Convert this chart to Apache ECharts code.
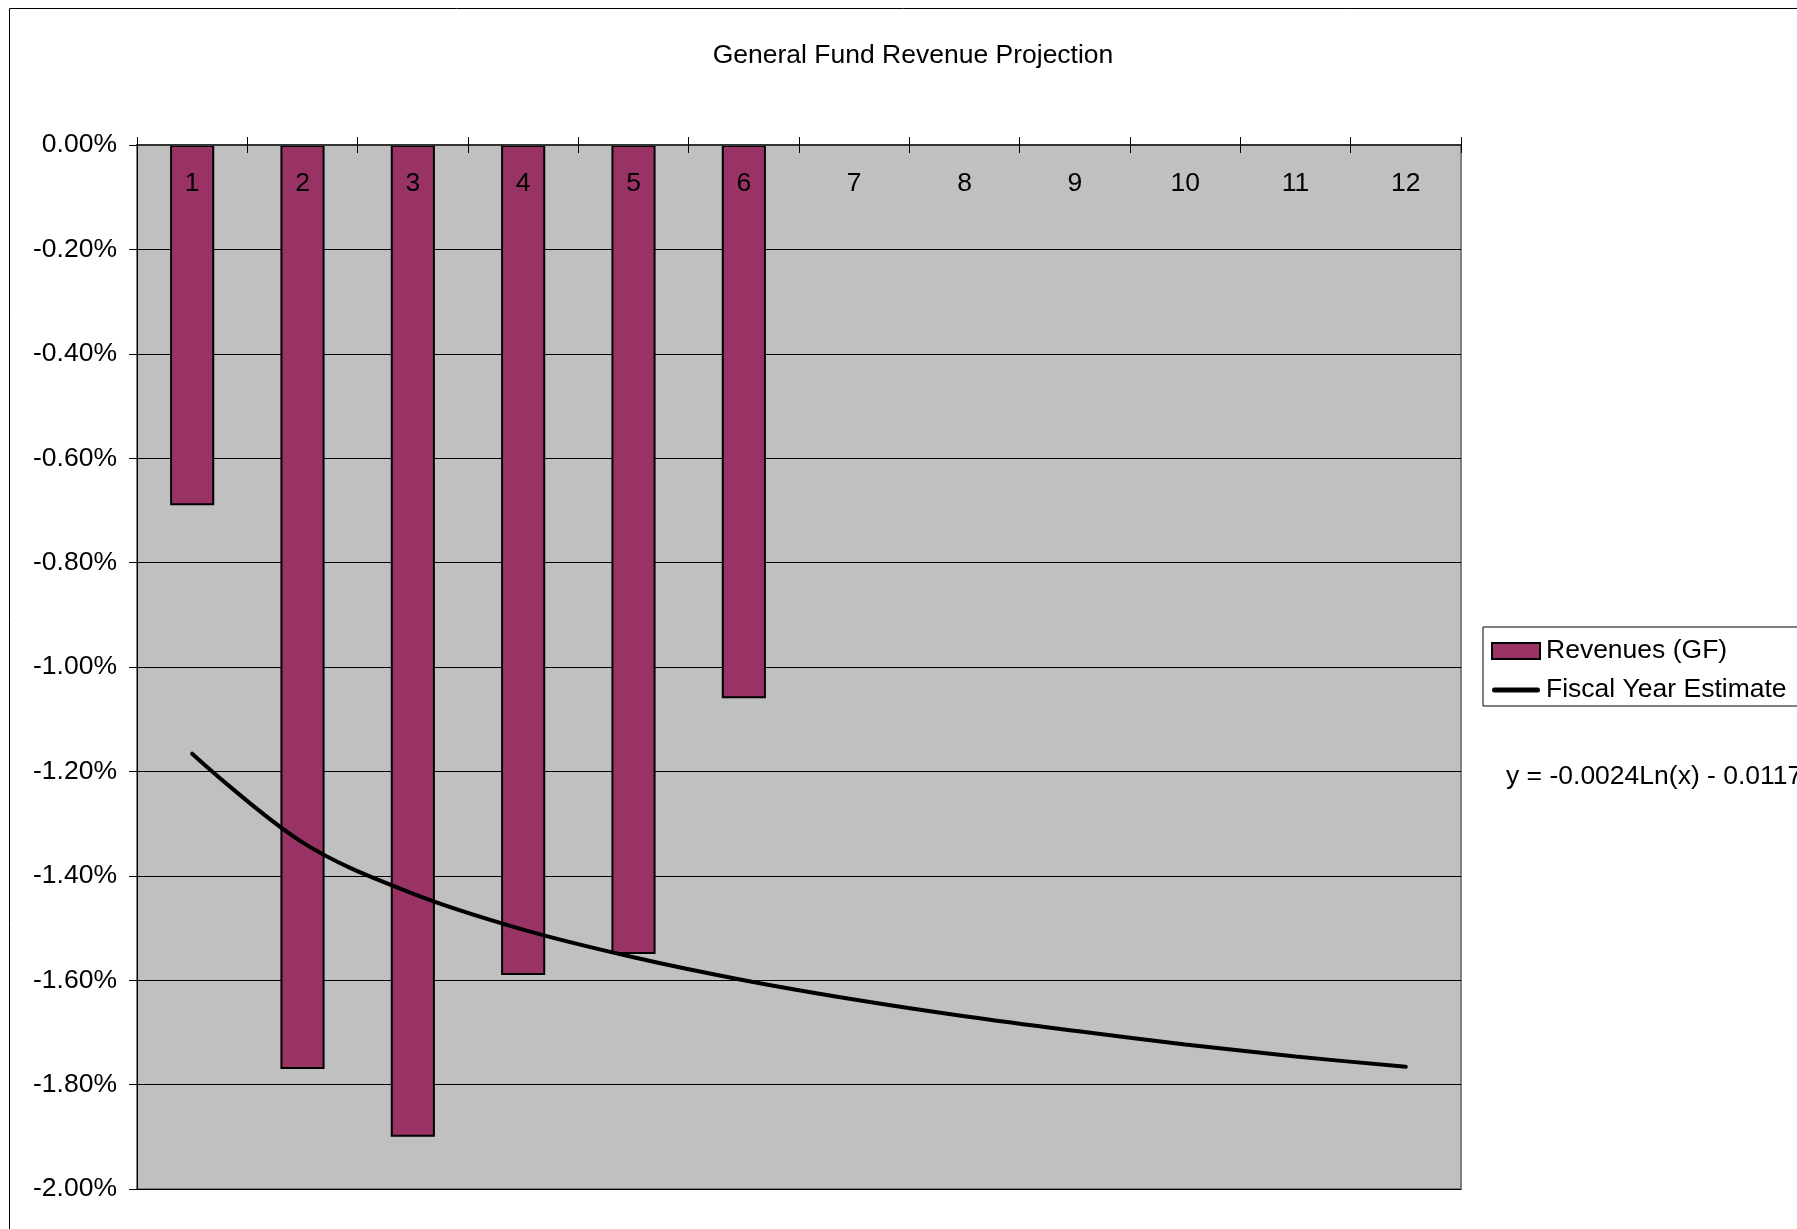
<!DOCTYPE html>
<html>
<head>
<meta charset="utf-8">
<title>General Fund Revenue Projection</title>
<script src="https://cdn.jsdelivr.net/npm/echarts@6/dist/echarts.min.js"></script>
<style>
  html, body { margin: 0; padding: 0; background: #ffffff; }
  #chart { width: 1797px; height: 1229px; }
</style>
</head>
<body>
<div id="chart"></div>
<script>
// Months of the fiscal year
const months = ['1', '2', '3', '4', '5', '6', '7', '8', '9', '10', '11', '12'];
// Revenue change (GF), in percent, reported months only
const revenues = [-0.69, -1.77, -1.90, -1.59, -1.55, -1.06];
// Fiscal year estimate (logarithmic trend), in percent
const estimate = [-1.166, -1.336, -1.434, -1.503, -1.556, -1.600, -1.637, -1.669, -1.697, -1.723, -1.746, -1.766];
// Value axis range, in percent
const yMin = -2, yMax = 0, yStep = 0.2;
const trendText = 'y = -0.0024Ln(x) - 0.0117';

const FONT = '"Liberation Sans", Arial, sans-serif';
const FS = 26.5;

const chart = echarts.init(document.getElementById('chart'), null, { renderer: 'canvas' });

chart.setOption({
  animation: false,
  backgroundColor: '#ffffff',
  textStyle: { fontFamily: FONT, color: '#000' },
  title: {
    text: 'General Fund Revenue Projection',
    left: 908, top: 51, textAlign: 'center', textVerticalAlign: 'middle',
    textStyle: { fontFamily: FONT, fontSize: FS, fontWeight: 'normal', color: '#000' }
  },
  grid: {
    left: 137, right: 336, top: 145, bottom: 40,
    show: true, backgroundColor: '#C0C0C0',
    borderColor: '#808080', borderWidth: 2
  },
  legend: {
    orient: 'vertical',
    left: 1483, top: 627,
    padding: [9, 40, 1, 8],
    borderColor: '#000', borderWidth: 1,
    backgroundColor: '#ffffff',
    itemWidth: 48, itemHeight: 16, itemGap: 9,
    textStyle: { fontFamily: FONT, fontSize: FS, color: '#000', lineHeight: 30, padding: [0, 0, 0, 1] },
    data: [
      { name: 'Revenues (GF)', icon: 'rect' },
      {
        name: 'Fiscal Year Estimate',
        // thick horizontal stroke with rounded ends inside a 48x16 box
        icon: 'path://M0,0 M48,16 M2.5,5.5 H45.5 A2.5,2.5 0 0 1 45.5,10.5 H2.5 A2.5,2.5 0 0 1 2.5,5.5 Z',
        itemStyle: { color: '#000', borderWidth: 0 }
      }
    ]
  },
  xAxis: [
    {
      type: 'category', data: months, position: 'top', z: 10,
      axisLine: { show: true, onZero: false, lineStyle: { color: '#333', width: 2 } },
      axisTick: { show: true, inside: false, length: 8, lineStyle: { color: '#000', width: 1 } },
      axisLabel: { inside: true, margin: 25, fontFamily: FONT, fontSize: FS, color: '#000' },
      splitLine: { show: false }
    },
    {
      // second copy of the category axis: inner half of the cross ticks
      type: 'category', data: months, position: 'top', z: 10,
      axisLine: { show: false },
      axisTick: { show: true, inside: true, length: 8, lineStyle: { color: '#000', width: 1 } },
      axisLabel: { show: false },
      splitLine: { show: false }
    }
  ],
  yAxis: {
    type: 'value', min: yMin, max: yMax, interval: yStep,
    axisLine: { show: true, lineStyle: { color: '#000', width: 1 } },
    axisTick: { show: true, length: 8, lineStyle: { color: '#000' } },
    axisLabel: {
      margin: 20, fontFamily: FONT, fontSize: FS, color: '#000',
      formatter: v => v.toFixed(2) + '%'
    },
    splitLine: { show: true, lineStyle: { color: '#000', width: 1 } }
  },
  series: [
    {
      name: 'Revenues (GF)', type: 'bar', xAxisIndex: 0,
      data: revenues, barWidth: '40%',
      itemStyle: { color: '#993366', borderColor: '#000', borderWidth: 2 },
      z: 2
    },
    {
      name: 'Fiscal Year Estimate', type: 'line', xAxisIndex: 0,
      data: estimate, smooth: 0.35, symbol: 'none',
      lineStyle: { color: '#000', width: 4, cap: 'round' },
      itemStyle: { color: '#000' },
      z: 3
    }
  ],
  graphic: [
    {
      type: 'rect', silent: true, z: 100,
      shape: { x: 9.5, y: 8.5, width: 2000, height: 2000 },
      style: { fill: null, stroke: '#000', lineWidth: 1 }
    },
    {
      type: 'text', left: 1506, top: 763, silent: true,
      style: {
        text: trendText, fontFamily: FONT, fontSize: FS, fill: '#000'
      }
    }
  ]
});
</script>
</body>
</html>
